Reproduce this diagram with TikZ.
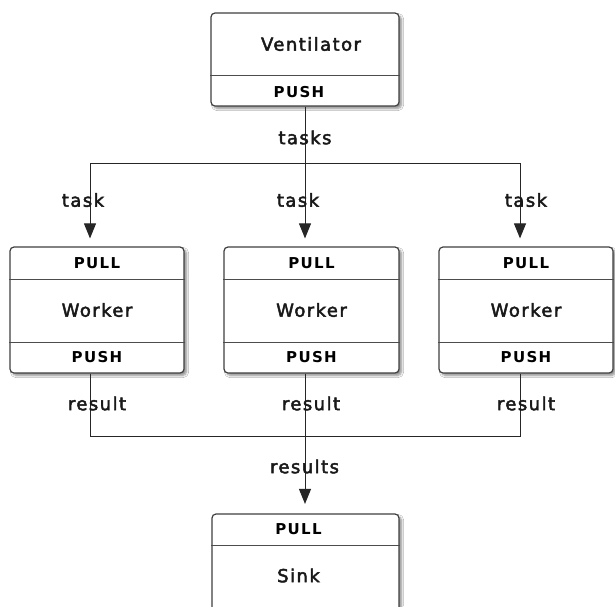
\documentclass[tikz,border=0pt]{standalone}
\usepackage{fontspec}
\setmainfont{DejaVu Sans}
\newfontfamily\boxfont[LetterSpace=8,FakeBold=2.5]{DejaVu Sans}
\newfontfamily\portfont[LetterSpace=9]{DejaVu Sans Bold}
\usepackage{tikz}
\usetikzlibrary{arrows.meta,shadows.blur}

\tikzset{
  box/.style={draw=black!75, line width=1.2pt, rounded corners=4pt, fill=white, inner sep=0pt,
    blur shadow={shadow xshift=2.5pt, shadow yshift=-2.5pt, shadow blur steps=6, shadow opacity=45}},
  part/.style={draw=black!70, line width=1pt},
  boxtext/.style={font=\boxfont\fontsize{18}{21}\selectfont, text=black!90, inner sep=0pt},
  porttext/.style={font=\portfont\fontsize{15}{18}\selectfont, inner sep=0pt},
  flow/.style={draw=black!85, line width=1pt},
  arrowtip/.style={-{Triangle[length=15pt,width=12pt]}}
}

\begin{document}
\begin{tikzpicture}[x=1pt, y=-1pt]
  \clip (0,0) rectangle (615,606);
  \fill[white] (0,0) rectangle (615,606);

  % boxes
  \node[box, minimum width=188pt, minimum height=93pt] (vent) at (305,59.5) {};
  \node[box, minimum width=174pt, minimum height=126pt] (w1) at (97,310) {};
  \node[box, minimum width=175pt, minimum height=126pt] (w2) at (311.5,310) {};
  \node[box, minimum width=174pt, minimum height=126pt] (w3) at (526,310) {};
  \node[box, minimum width=187pt, minimum height=126pt] (sink) at (305.5,577) {};

  % compartments
  \draw[part] (vent.west |- 0,75) -- (vent.east |- 0,75);
  \draw[part] (w1.west |- 0,279) -- (w1.east |- 0,279);
  \draw[part] (w1.west |- 0,342) -- (w1.east |- 0,342);
  \draw[part] (w2.west |- 0,279) -- (w2.east |- 0,279);
  \draw[part] (w2.west |- 0,342) -- (w2.east |- 0,342);
  \draw[part] (w3.west |- 0,279) -- (w3.east |- 0,279);
  \draw[part] (w3.west |- 0,342) -- (w3.east |- 0,342);
  \draw[part] (sink.west |- 0,545) -- (sink.east |- 0,545);

  \node[boxtext] (ventname) at (311,44) {Ventilator};
  \node[porttext] (ventpush) at (299,92) {PUSH};

  \node[porttext] (w1pull) at (97,263) {PULL};
  \node[boxtext] (w1name) at (97,310) {Worker};
  \node[porttext] (w1push) at (97,357.5) {PUSH};
  \node[porttext] (w2pull) at (311.5,263) {PULL};
  \node[boxtext] (w2name) at (311.5,310) {Worker};
  \node[porttext] (w2push) at (311.5,357.5) {PUSH};
  \node[porttext] (w3pull) at (526,263) {PULL};
  \node[boxtext] (w3name) at (526,310) {Worker};
  \node[porttext] (w3push) at (526,357.5) {PUSH};

  \node[porttext] (sinkpull) at (298.5,529) {PULL};
  \node[boxtext] (sinkname) at (298.5,575.5) {Sink};

  % fan out
  \coordinate (split) at (305,163);
  \coordinate (t1) at (90,163);
  \coordinate (t3) at (520,163);
  \draw[flow] (vent.south) -- (split);
  \draw[flow] (t1) -- (t3);
  \draw[flow, arrowtip, shorten >=8pt] (t1) -- (t1 |- w1.north);
  \draw[flow, arrowtip, shorten >=8pt] (split) -- (split |- w2.north);
  \draw[flow, arrowtip, shorten >=8pt] (t3) -- (t3 |- w3.north);

  % fan in
  \coordinate (join) at (305,436);
  \coordinate (r1) at (90,436);
  \coordinate (r3) at (520,436);
  \draw[flow] (t1 |- w1.south) -- (r1) -- (r3) -- (t3 |- w3.south);
  \draw[flow] (join |- w2.south) -- (join);
  \draw[flow, arrowtip, shorten >=9.5pt] (join) -- (join |- sink.north);

  % labels
  \node[boxtext] (ltasks) at (305,137.5) {tasks};
  \node[boxtext] (ltask1) at (83,200) {task};
  \node[boxtext] (ltask2) at (298,200) {task};
  \node[boxtext] (ltask3) at (526,200) {task};
  \node[boxtext] (lresult1) at (97,403.5) {result};
  \node[boxtext] (lresult2) at (311,403.5) {result};
  \node[boxtext] (lresult3) at (526,403.5) {result};
  \node[boxtext] (lresults) at (304.5,466.5) {results};
\end{tikzpicture}
\end{document}
